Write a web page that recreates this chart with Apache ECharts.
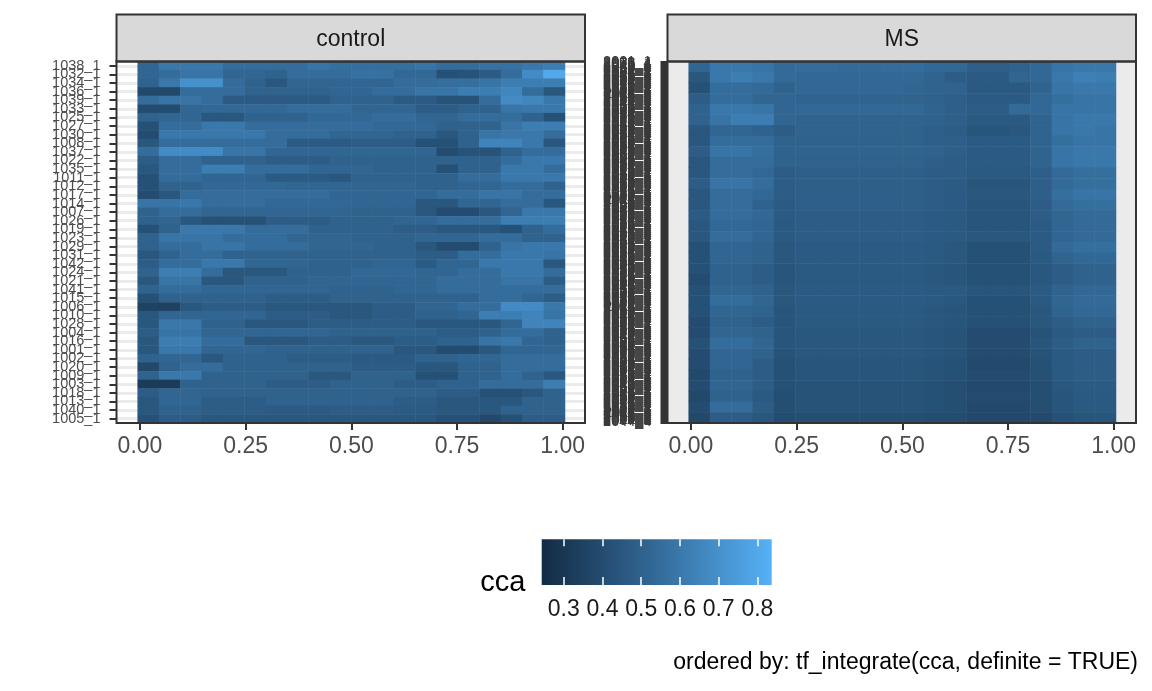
<!DOCTYPE html>
<html><head><meta charset="utf-8">
<script src="https://cdn.jsdelivr.net/npm/echarts@6/dist/echarts.min.js"></script>
<style>html,body{margin:0;padding:0;background:#fff}#c{width:1152px;height:691px}</style>
</head><body><div id="c"></div><script>
// ---------- data ----------
const xBins = [0.025,0.075,0.125,0.175,0.225,0.275,0.325,0.375,0.425,0.475,0.525,0.575,0.625,0.675,0.725,0.775,0.825,0.875,0.925,0.975];
const xTicks = [0, 0.25, 0.5, 0.75, 1];
const legendTicks = [0.3, 0.4, 0.5, 0.6, 0.7, 0.8];
const ccaMin = 0.243, ccaMax = 0.837;
const panelNames = ['control', 'MS'];
const caption = 'ordered by: tf_integrate(cca, definite = TRUE)';
const legendTitle = 'cca';

// control subjects, top to bottom
const controlIds = ['1038_1','1032_1','1034_1','1036_1','1039_1','1033_1','1025_1','1027_1','1030_1','1008_1','1037_1','1022_1','1035_1','1011_1','1012_1','1017_1','1014_1','1007_1','1026_1','1019_1','1023_1','1029_1','1031_1','1042_1','1024_1','1021_1','1041_1','1015_1','1006_1','1010_1','1028_1','1004_1','1016_1','1001_1','1002_1','1020_1','1009_1','1003_1','1018_1','1013_1','1040_1','1005_1'];

// control cca, one row per subject (top to bottom), columns = xBins
const controlCca = [
[0.52,0.60,0.60,0.60,0.55,0.55,0.55,0.55,0.58,0.56,0.56,0.56,0.56,0.58,0.55,0.55,0.57,0.57,0.60,0.62],
[0.52,0.55,0.58,0.58,0.52,0.52,0.50,0.55,0.55,0.55,0.57,0.57,0.53,0.53,0.42,0.43,0.47,0.55,0.68,0.80],
[0.50,0.60,0.70,0.70,0.55,0.50,0.45,0.52,0.52,0.52,0.52,0.52,0.55,0.55,0.56,0.56,0.58,0.62,0.62,0.62],
[0.38,0.38,0.55,0.55,0.55,0.50,0.50,0.50,0.50,0.52,0.52,0.55,0.55,0.58,0.58,0.62,0.62,0.66,0.55,0.45],
[0.55,0.58,0.58,0.55,0.47,0.47,0.47,0.47,0.47,0.50,0.50,0.50,0.47,0.47,0.43,0.43,0.55,0.68,0.66,0.60],
[0.40,0.40,0.52,0.53,0.53,0.53,0.53,0.55,0.55,0.55,0.52,0.52,0.52,0.48,0.48,0.50,0.50,0.58,0.60,0.60],
[0.50,0.52,0.52,0.45,0.45,0.50,0.50,0.50,0.53,0.53,0.53,0.55,0.55,0.52,0.52,0.55,0.55,0.55,0.50,0.42],
[0.42,0.55,0.55,0.60,0.60,0.55,0.55,0.55,0.55,0.55,0.55,0.53,0.53,0.53,0.50,0.50,0.50,0.58,0.62,0.62],
[0.40,0.60,0.60,0.60,0.60,0.60,0.55,0.55,0.55,0.52,0.52,0.52,0.50,0.50,0.45,0.50,0.58,0.60,0.60,0.55],
[0.45,0.55,0.55,0.55,0.55,0.55,0.55,0.47,0.47,0.47,0.48,0.48,0.48,0.42,0.42,0.50,0.65,0.65,0.60,0.45],
[0.55,0.68,0.68,0.68,0.58,0.58,0.52,0.52,0.52,0.52,0.52,0.52,0.52,0.52,0.40,0.43,0.43,0.50,0.55,0.55],
[0.48,0.55,0.55,0.50,0.50,0.50,0.48,0.48,0.48,0.50,0.50,0.50,0.50,0.50,0.50,0.50,0.50,0.55,0.60,0.60],
[0.45,0.55,0.55,0.62,0.62,0.55,0.55,0.55,0.52,0.52,0.52,0.50,0.50,0.50,0.42,0.50,0.50,0.60,0.60,0.55],
[0.42,0.55,0.55,0.52,0.52,0.52,0.47,0.47,0.47,0.45,0.50,0.50,0.50,0.50,0.50,0.55,0.55,0.60,0.60,0.60],
[0.42,0.50,0.50,0.53,0.53,0.53,0.53,0.52,0.52,0.52,0.52,0.52,0.52,0.50,0.50,0.52,0.52,0.55,0.55,0.50],
[0.40,0.45,0.55,0.55,0.55,0.55,0.55,0.55,0.55,0.52,0.52,0.52,0.52,0.52,0.55,0.55,0.58,0.58,0.55,0.55],
[0.58,0.58,0.60,0.55,0.55,0.55,0.53,0.53,0.53,0.53,0.52,0.52,0.52,0.45,0.45,0.52,0.52,0.55,0.55,0.45],
[0.50,0.55,0.55,0.52,0.52,0.52,0.52,0.52,0.52,0.52,0.50,0.50,0.50,0.45,0.40,0.40,0.45,0.52,0.60,0.60],
[0.50,0.52,0.45,0.42,0.42,0.42,0.48,0.48,0.48,0.50,0.50,0.50,0.52,0.52,0.55,0.55,0.55,0.62,0.62,0.62],
[0.42,0.50,0.60,0.60,0.60,0.55,0.55,0.55,0.50,0.50,0.50,0.50,0.48,0.48,0.45,0.45,0.45,0.42,0.50,0.55],
[0.50,0.58,0.58,0.58,0.55,0.55,0.55,0.52,0.52,0.52,0.50,0.50,0.50,0.52,0.52,0.52,0.55,0.55,0.50,0.50],
[0.50,0.55,0.55,0.58,0.58,0.55,0.55,0.55,0.52,0.52,0.52,0.50,0.50,0.45,0.40,0.40,0.50,0.58,0.60,0.60],
[0.45,0.50,0.55,0.55,0.50,0.50,0.50,0.50,0.50,0.50,0.50,0.50,0.50,0.48,0.48,0.55,0.55,0.60,0.60,0.58],
[0.48,0.55,0.55,0.60,0.60,0.52,0.52,0.52,0.50,0.50,0.50,0.52,0.52,0.47,0.52,0.52,0.60,0.60,0.60,0.45],
[0.50,0.62,0.62,0.55,0.45,0.45,0.45,0.50,0.50,0.50,0.53,0.53,0.53,0.52,0.52,0.55,0.55,0.60,0.60,0.55],
[0.45,0.58,0.58,0.45,0.45,0.50,0.50,0.50,0.52,0.52,0.52,0.52,0.52,0.52,0.55,0.55,0.55,0.58,0.58,0.48],
[0.50,0.55,0.55,0.52,0.52,0.52,0.52,0.52,0.52,0.50,0.50,0.50,0.52,0.52,0.55,0.55,0.55,0.55,0.55,0.55],
[0.42,0.50,0.50,0.50,0.50,0.50,0.48,0.48,0.48,0.50,0.50,0.50,0.50,0.50,0.50,0.50,0.55,0.55,0.52,0.48],
[0.35,0.35,0.45,0.48,0.48,0.48,0.45,0.45,0.45,0.45,0.45,0.48,0.48,0.52,0.52,0.55,0.55,0.68,0.68,0.60],
[0.45,0.52,0.52,0.52,0.52,0.52,0.48,0.48,0.48,0.45,0.45,0.48,0.48,0.50,0.50,0.52,0.62,0.62,0.65,0.58],
[0.45,0.60,0.60,0.50,0.50,0.45,0.45,0.45,0.48,0.48,0.48,0.48,0.48,0.45,0.45,0.45,0.45,0.52,0.65,0.65],
[0.48,0.58,0.58,0.52,0.52,0.52,0.52,0.52,0.52,0.50,0.50,0.50,0.50,0.50,0.48,0.48,0.50,0.55,0.55,0.50],
[0.45,0.62,0.62,0.55,0.55,0.45,0.45,0.45,0.48,0.48,0.45,0.45,0.48,0.48,0.50,0.50,0.58,0.60,0.52,0.50],
[0.45,0.60,0.60,0.52,0.52,0.52,0.50,0.50,0.50,0.50,0.50,0.50,0.45,0.45,0.40,0.40,0.45,0.52,0.52,0.52],
[0.50,0.52,0.52,0.45,0.50,0.50,0.50,0.48,0.48,0.48,0.47,0.47,0.47,0.50,0.50,0.52,0.52,0.55,0.55,0.55],
[0.38,0.50,0.55,0.55,0.50,0.50,0.50,0.50,0.50,0.50,0.48,0.48,0.48,0.45,0.45,0.50,0.50,0.55,0.55,0.55],
[0.50,0.60,0.60,0.50,0.50,0.50,0.50,0.50,0.45,0.45,0.50,0.50,0.50,0.42,0.42,0.50,0.50,0.55,0.50,0.45],
[0.32,0.32,0.50,0.50,0.50,0.50,0.48,0.48,0.48,0.50,0.50,0.50,0.48,0.48,0.50,0.50,0.55,0.55,0.55,0.62],
[0.48,0.52,0.52,0.50,0.50,0.50,0.50,0.50,0.50,0.50,0.50,0.50,0.50,0.50,0.48,0.48,0.42,0.42,0.45,0.50],
[0.45,0.52,0.52,0.48,0.48,0.48,0.50,0.50,0.50,0.50,0.50,0.50,0.48,0.48,0.45,0.45,0.45,0.45,0.50,0.50],
[0.45,0.50,0.50,0.48,0.48,0.48,0.47,0.47,0.47,0.48,0.48,0.48,0.47,0.47,0.45,0.45,0.45,0.50,0.50,0.50],
[0.42,0.48,0.48,0.45,0.45,0.45,0.45,0.45,0.45,0.45,0.45,0.45,0.45,0.45,0.42,0.42,0.38,0.42,0.48,0.48]
];

// MS cca, read in horizontal bands of 10 curves each (top to bottom), columns = xBins
const msCca = [
[0.52,0.60,0.60,0.58,0.54,0.55,0.55,0.54,0.54,0.55,0.55,0.53,0.53,0.49,0.49,0.50,0.53,0.58,0.60,0.60],
[0.45,0.60,0.62,0.60,0.54,0.53,0.53,0.53,0.53,0.53,0.53,0.51,0.48,0.47,0.47,0.52,0.53,0.60,0.63,0.62],
[0.42,0.55,0.55,0.54,0.50,0.53,0.53,0.53,0.53,0.53,0.52,0.51,0.50,0.46,0.46,0.46,0.51,0.58,0.60,0.60],
[0.48,0.55,0.55,0.52,0.52,0.51,0.51,0.51,0.51,0.51,0.51,0.50,0.49,0.47,0.47,0.47,0.53,0.56,0.58,0.58],
[0.50,0.60,0.60,0.58,0.52,0.53,0.53,0.53,0.53,0.53,0.53,0.51,0.49,0.48,0.48,0.54,0.53,0.58,0.58,0.58],
[0.50,0.58,0.62,0.62,0.52,0.51,0.51,0.51,0.51,0.51,0.51,0.50,0.49,0.46,0.46,0.46,0.51,0.58,0.60,0.60],
[0.45,0.52,0.52,0.50,0.48,0.51,0.51,0.51,0.51,0.51,0.50,0.49,0.48,0.44,0.44,0.45,0.51,0.58,0.60,0.58],
[0.45,0.55,0.55,0.55,0.50,0.50,0.50,0.50,0.50,0.50,0.50,0.49,0.49,0.47,0.47,0.47,0.51,0.56,0.58,0.58],
[0.48,0.58,0.58,0.56,0.50,0.51,0.51,0.51,0.51,0.51,0.51,0.50,0.49,0.47,0.47,0.47,0.51,0.58,0.60,0.60],
[0.45,0.55,0.55,0.55,0.50,0.50,0.50,0.50,0.50,0.50,0.50,0.49,0.48,0.47,0.47,0.47,0.51,0.58,0.60,0.60],
[0.45,0.55,0.55,0.53,0.48,0.49,0.49,0.49,0.49,0.49,0.49,0.48,0.48,0.46,0.46,0.46,0.49,0.54,0.56,0.56],
[0.48,0.58,0.58,0.55,0.48,0.49,0.49,0.49,0.49,0.49,0.49,0.48,0.47,0.44,0.44,0.44,0.49,0.54,0.56,0.56],
[0.45,0.55,0.55,0.53,0.48,0.49,0.49,0.49,0.49,0.49,0.49,0.48,0.47,0.45,0.45,0.45,0.49,0.56,0.58,0.58],
[0.45,0.55,0.55,0.50,0.47,0.49,0.49,0.49,0.49,0.49,0.49,0.48,0.47,0.44,0.44,0.44,0.48,0.54,0.56,0.56],
[0.47,0.55,0.55,0.53,0.47,0.48,0.48,0.48,0.48,0.48,0.48,0.47,0.46,0.44,0.44,0.44,0.48,0.52,0.54,0.54],
[0.45,0.53,0.53,0.52,0.46,0.48,0.48,0.48,0.48,0.48,0.48,0.47,0.46,0.44,0.44,0.44,0.47,0.52,0.54,0.54],
[0.45,0.55,0.55,0.52,0.46,0.48,0.48,0.48,0.48,0.48,0.48,0.47,0.46,0.45,0.45,0.45,0.47,0.52,0.54,0.54],
[0.42,0.52,0.52,0.50,0.45,0.47,0.47,0.47,0.47,0.47,0.47,0.46,0.45,0.42,0.42,0.42,0.47,0.54,0.56,0.56],
[0.42,0.52,0.52,0.50,0.45,0.47,0.47,0.47,0.47,0.47,0.47,0.46,0.45,0.42,0.42,0.42,0.46,0.51,0.53,0.53],
[0.42,0.50,0.50,0.48,0.44,0.46,0.46,0.46,0.46,0.46,0.46,0.45,0.44,0.42,0.42,0.42,0.45,0.48,0.50,0.50],
[0.40,0.50,0.50,0.48,0.44,0.46,0.46,0.46,0.46,0.46,0.46,0.45,0.44,0.42,0.42,0.42,0.45,0.48,0.50,0.50],
[0.42,0.52,0.52,0.50,0.45,0.47,0.47,0.47,0.47,0.47,0.47,0.46,0.46,0.44,0.44,0.44,0.47,0.51,0.53,0.53],
[0.42,0.55,0.55,0.52,0.45,0.47,0.47,0.47,0.47,0.47,0.47,0.46,0.45,0.42,0.42,0.42,0.46,0.52,0.54,0.54],
[0.42,0.52,0.52,0.50,0.44,0.46,0.46,0.46,0.46,0.46,0.46,0.45,0.44,0.42,0.42,0.42,0.45,0.51,0.53,0.53],
[0.40,0.50,0.50,0.48,0.44,0.46,0.46,0.46,0.46,0.46,0.46,0.45,0.44,0.42,0.42,0.42,0.45,0.48,0.50,0.50],
[0.40,0.52,0.52,0.50,0.44,0.45,0.45,0.45,0.45,0.45,0.45,0.44,0.43,0.40,0.40,0.40,0.43,0.46,0.48,0.48],
[0.42,0.55,0.55,0.52,0.44,0.45,0.45,0.45,0.45,0.45,0.45,0.44,0.43,0.40,0.40,0.40,0.44,0.48,0.50,0.50],
[0.40,0.52,0.52,0.50,0.43,0.45,0.45,0.45,0.45,0.45,0.45,0.44,0.43,0.40,0.40,0.40,0.43,0.46,0.48,0.48],
[0.40,0.52,0.52,0.48,0.42,0.44,0.44,0.44,0.44,0.44,0.44,0.43,0.42,0.39,0.39,0.39,0.42,0.46,0.48,0.48],
[0.38,0.50,0.50,0.48,0.42,0.44,0.44,0.44,0.44,0.44,0.44,0.43,0.42,0.40,0.40,0.40,0.42,0.46,0.48,0.48],
[0.40,0.52,0.52,0.48,0.42,0.43,0.43,0.43,0.43,0.43,0.43,0.42,0.41,0.39,0.39,0.39,0.41,0.45,0.47,0.47],
[0.38,0.50,0.50,0.46,0.41,0.43,0.43,0.43,0.43,0.43,0.43,0.42,0.41,0.40,0.40,0.40,0.41,0.44,0.46,0.46],
[0.40,0.55,0.55,0.48,0.41,0.43,0.43,0.43,0.43,0.43,0.43,0.42,0.41,0.39,0.39,0.39,0.41,0.44,0.46,0.46],
[0.38,0.48,0.48,0.45,0.40,0.41,0.41,0.41,0.41,0.41,0.41,0.40,0.40,0.38,0.38,0.38,0.39,0.42,0.44,0.44]
];

// MS curve labels (340 curves; illegible in the reference, drawn as overlapping text)
const msLabels = [];
for (let i = 0; i < 340; i++) msLabels.push(String(2001 + (i * 37) % 100) + '_' + (1 + (i * 3) % 6));
const msBandIds = msCca.map((_, i) => 'band' + i);

// ---------- layout ----------
const FONT = 'Liberation Sans, Arial, Helvetica, sans-serif';
const panels = [{left: 116.5, right: 585}, {left: 667.5, right: 1136}];
const pTop = 61.5, pBottom = 423, stripTop = 14.5;
const dataOff = 21.2, dataW = 427.3, tickOff = 23.5, tickW = 422.7;
const colors = ['#132B43', '#336A98', '#56B1F7'];

const grids = [], xAxes = [], yAxes = [], series = [], graphics = [];
const yLabelSets = [controlIds, msLabels];
const yLabelColors = ['#4D4D4D', '#3A3A3A'];
const rowSets = [controlIds, msBandIds];
const valueSets = [controlCca, msCca];

panels.forEach((p, k) => {
  const w = p.right - p.left, h = pBottom - pTop;
  const g0 = grids.length;
  grids.push({left: p.left, top: pTop, width: w, height: h, show: true,
    backgroundColor: k === 0 ? '#FFFFFF' : '#EBEBEB', borderWidth: 0, containLabel: false, outerBoundsMode: 'none'});
  grids.push({left: p.left + dataOff, top: pTop, width: dataW, height: h, containLabel: false, outerBoundsMode: 'none'});
  grids.push({left: p.left + tickOff, top: pTop, width: tickW, height: h, containLabel: false, outerBoundsMode: 'none'});
  // outer panel axes
  xAxes.push({gridIndex: g0, type: 'value', show: false});
  yAxes.push({gridIndex: g0, type: 'category', data: yLabelSets[k], inverse: true,
    axisLine: {show: false},
    axisTick: {show: true, alignWithLabel: true, interval: 0, length: 7, lineStyle: {color: '#333333', width: 2}},
    axisLabel: {interval: 0, hideOverlap: false, fontSize: 14.5, color: yLabelColors[k], margin: 16, fontFamily: FONT},
    splitLine: {show: true, interval: 0, alignWithLabel: true, lineStyle: {color: '#EBEBEB', width: 3}}});
  // data axes
  xAxes.push({gridIndex: g0 + 1, type: 'category', data: xBins, show: false});
  yAxes.push({gridIndex: g0 + 1, type: 'category', data: rowSets[k], inverse: true, show: false});
  // x tick axis
  xAxes.push({gridIndex: g0 + 2, type: 'value', min: 0, max: 1, interval: 0.25,
    axisLine: {show: false}, splitLine: {show: false},
    axisTick: {show: true, length: 7, lineStyle: {color: '#333333', width: 2}},
    axisLabel: {fontSize: 23, color: '#4D4D4D', margin: 12.5, fontFamily: FONT, formatter: v => v.toFixed(2)}});
  yAxes.push({gridIndex: g0 + 2, type: 'value', show: false});

  const data = [];
  valueSets[k].forEach((row, r) => row.forEach((v, c) => data.push([c, r, v])));
  series.push({type: 'heatmap', xAxisIndex: g0 + 1, yAxisIndex: g0 + 1, data: data,
    itemStyle: {borderWidth: 0}, emphasis: {disabled: true}, progressive: 0});

  // strip + frame
  graphics.push({type: 'rect', z: 100, shape: {x: p.left, y: stripTop, width: w, height: pTop - stripTop},
    style: {fill: '#D9D9D9', stroke: '#333333', lineWidth: 2}});
  graphics.push({type: 'text', z: 101, x: p.left + w / 2, y: 40,
    style: {text: panelNames[k], fill: '#1A1A1A', font: '23px ' + FONT, textAlign: 'center', textVerticalAlign: 'middle'}});
  graphics.push({type: 'rect', z: 100, shape: {x: p.left, y: pTop, width: w, height: h},
    style: {fill: null, stroke: '#333333', lineWidth: 2}});
});

// legend colour bar grid
const lg = {left: 541.7, top: 539.3, width: 230, height: 45.7};
const lgIdx = grids.length;
grids.push({left: lg.left, top: lg.top, width: lg.width, height: lg.height, containLabel: false, outerBoundsMode: 'none'});
xAxes.push({gridIndex: lgIdx, type: 'value', min: ccaMin, max: ccaMax, position: 'bottom',
  axisLine: {show: false}, splitLine: {show: false},
  axisTick: {show: true, inside: true, length: 8, customValues: legendTicks, lineStyle: {color: '#FFFFFF', width: 1.5}},
  axisLabel: {customValues: legendTicks, fontSize: 23, color: '#1A1A1A', margin: 13, fontFamily: FONT, formatter: v => v.toFixed(1)}});
xAxes.push({gridIndex: lgIdx, type: 'value', min: ccaMin, max: ccaMax, position: 'top',
  axisLine: {show: false}, splitLine: {show: false}, axisLabel: {show: false},
  axisTick: {show: true, inside: true, length: 7, customValues: legendTicks, lineStyle: {color: '#FFFFFF', width: 1.5}}});
yAxes.push({gridIndex: lgIdx, type: 'value', show: false});
graphics.push({type: 'rect', z: -1, shape: {x: lg.left, y: lg.top, width: lg.width, height: lg.height},
  style: {fill: new echarts.graphic.LinearGradient(0, 0, 1, 0, [
    {offset: 0, color: colors[0]}, {offset: 0.5, color: colors[1]}, {offset: 1, color: colors[2]}])}});
graphics.push({type: 'text', x: 525.5, y: 582.5,
  style: {text: legendTitle, fill: '#000000', font: '29px ' + FONT, textAlign: 'right', textVerticalAlign: 'middle'}});
graphics.push({type: 'text', x: 1138, y: 663,
  style: {text: caption, fill: '#000000', font: '23px ' + FONT, textAlign: 'right', textVerticalAlign: 'middle'}});

const chart = echarts.init(document.getElementById('c'), null, {renderer: 'canvas'});
chart.setOption({
  animation: false,
  backgroundColor: '#FFFFFF',
  textStyle: {fontFamily: FONT},
  grid: grids, xAxis: xAxes, yAxis: yAxes, series: series,
  visualMap: {type: 'continuous', show: false, min: ccaMin, max: ccaMax, seriesIndex: [0, 1], inRange: {color: colors}},
  graphic: graphics
});
</script></body></html>
